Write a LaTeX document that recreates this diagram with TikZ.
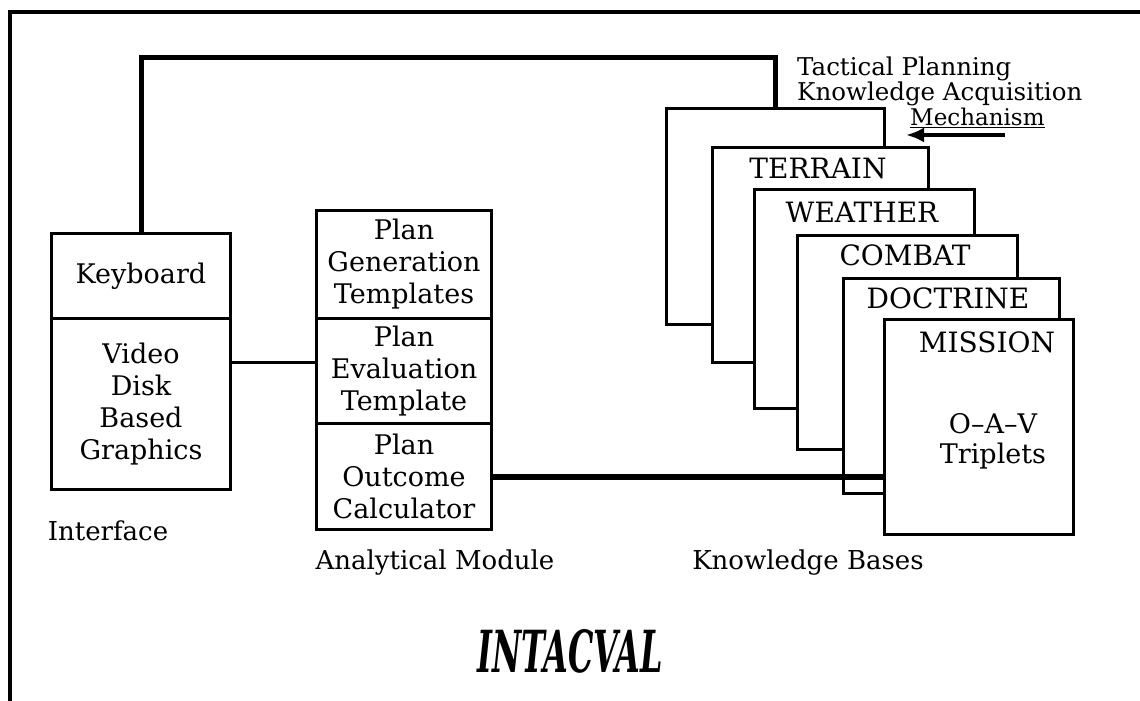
\documentclass[tikz,border=0pt]{standalone}
\usepackage{fontspec}
\setmainfont{DejaVu Serif}
\usetikzlibrary{arrows.meta}
\begin{document}
\begin{tikzpicture}[x=1pt,y=-1pt,
  box/.style={draw,line width=3pt,fill=white,inner sep=0pt,anchor=north west,
    align=center,font=\fontsize{27}{32}\selectfont},
  kbtext/.style={font=\fontsize{28}{32}\selectfont,inner sep=0pt},
  lbl/.style={font=\fontsize{26}{30}\selectfont,inner sep=0pt},
  wire/.style={line width=5pt},
  thin/.style={line width=3pt},
  heavy/.style={line width=6pt}]
\useasboundingbox (0,0) rectangle (1140,701);
% frame
\draw[line width=4.5pt] (10,701) -- (10,12) -- (1140,12);
% interface
\node[box,minimum width=179pt,minimum height=85pt] (kbd) at (50,232) {Keyboard};
\node[box,minimum width=179pt,minimum height=171pt] (vid) at (50,317) {Video\\Disk\\Based\\Graphics};
% analytical module
\node[box,minimum width=175pt,minimum height=108pt] (gen) at (315,209) {Plan\\Generation\\Templates};
\node[box,minimum width=175pt,minimum height=105pt] (eval) at (315,317) {Plan\\Evaluation\\Template};
\node[box,minimum width=175pt,minimum height=106pt] (outc) at (315,422) {Plan\\Outcome\\Calculator};
% knowledge bases
\node[box,minimum width=218pt,minimum height=216pt] (kb1) at (665,107) {};
\node[box,minimum width=216pt,minimum height=215pt] (kb2) at (711,146) {};
\node[box,minimum width=220pt,minimum height=219pt] (kb3) at (753,188) {};
\node[box,minimum width=220pt,minimum height=214pt] (kb4) at (796,234) {};
\node[box,minimum width=216pt,minimum height=215pt] (kb5) at (842,277) {};
\node[box,minimum width=189pt,minimum height=215pt] (kb6) at (883,318) {};
\node[kbtext] (t2) at (818,168) {TERRAIN};
\node[kbtext] (t3) at (862,212) {WEATHER};
\node[kbtext] (t4) at (905,255) {COMBAT};
\node[kbtext] (t5) at (948,298) {DOCTRINE};
\node[kbtext] (t6) at (987,342) {MISSION};
\node[kbtext,align=center,font=\fontsize{27}{30}\selectfont] (oav) at (993,441) {O–A–V\\Triplets};
% connectors
\draw[wire] (kbd.north) -- (kbd.north |- 0,58) -| (kb1.north);
\draw[thin] (vid.east |- 0,362) -- (eval.west |- 0,362);
\draw[heavy] (outc.east |- 0,477) -- (kb6.west |- 0,477);
% acquisition mechanism
\node[lbl,anchor=base west,font=\fontsize{24.5}{26}\selectfont] (tp) at (797,75) {Tactical Planning};
\node[lbl,anchor=base west,font=\fontsize{24.5}{26}\selectfont] (ka) at (797,100) {Knowledge Acquisition};
\node[lbl,anchor=base west,font=\fontsize{23}{24}\selectfont] (mech) at (910,125) {\underline{Mechanism}};
\coordinate (arrstart) at (1005,135);
\coordinate (arrtip) at (906,135);
\draw[line width=3.5pt,-{Latex[length=18pt,width=15pt]}] (arrstart) -- (arrtip);
% labels
\node[lbl] (lint) at (108,531) {Interface};
\node[lbl] (lana) at (435,563) {Analytical Module};
\node[lbl] (lkb) at (808,563) {Knowledge Bases};
\node[inner sep=0pt] (title) at (570,651) {\scalebox{0.55}[1]{\fontsize{58}{60}\selectfont\bfseries\itshape INTACVAL}};
\end{tikzpicture}
\end{document}
